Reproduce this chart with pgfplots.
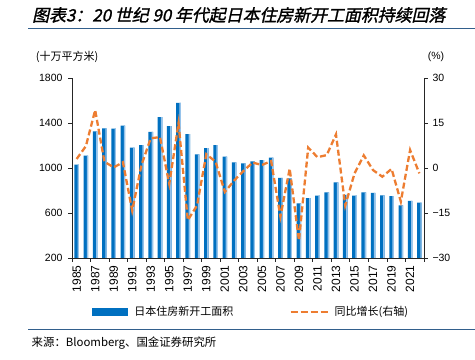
\documentclass[border=0pt]{standalone}
\usepackage{pgfplots}
\pgfplotsset{compat=1.18}
\usepackage{pgfplotstable}
\usepackage{fontspec}
\setmainfont{Liberation Sans}
\newfontfamily\cjk{Noto Sans CJK SC}
\newfontfamily\cjktitle[FakeBold=1.4,FakeSlant=0.22]{Noto Sans CJK SC}
\definecolor{barblue}{RGB}{0,112,192}
\definecolor{barlight}{RGB}{150,195,235}
\definecolor{lineorange}{RGB}{237,125,49}
\definecolor{rulecol}{RGB}{50,95,140}

\pgfplotstableread{
year area
1985 1030
1986 1110
1987 1325
1988 1353
1989 1350
1990 1376
1991 1181
1992 1204
1993 1320
1994 1453
1995 1373
1996 1578
1997 1302
1998 1122
1999 1177
2000 1204
2001 1102
2002 1050
2003 1040
2004 1058
2005 1070
2006 1092
2007 912
2008 908
2009 686
2010 733
2011 754
2012 784
2013 873
2014 760
2015 754
2016 784
2017 778
2018 757
2019 751
2020 668
2021 707
2022 692
}\areatable

\pgfplotstableread{
year yoy
1985 3.0
1986 7.3
1987 19.3
1988 2.1
1989 0.2
1990 1.9
1991 -14.2
1992 1.0
1993 9.9
1994 10.3
1995 -5.3
1996 14.9
1997 -17.4
1998 -12.5
1999 4.6
2000 2.1
2001 -8.0
2002 -4.2
2003 -1.0
2004 1.8
2005 1.0
2006 2.3
2007 -16.2
2008 -0.2
2009 -24.2
2010 6.8
2011 3.6
2012 4.3
2013 11.2
2014 -12.5
2015 -1.8
2016 4.2
2017 -0.7
2018 -2.9
2019 -0.3
2020 -11.2
2021 6.0
2022 -1.8
}\yoytable

\begin{document}
\begin{tikzpicture}
\useasboundingbox (0bp,0bp) rectangle (475bp,360bp);
% title and rules
\node[anchor=west, inner sep=0pt] at (32bp,345bp) {\cjktitle\fontsize{16.9bp}{19bp}\selectfont 图表3：20 世纪 90 年代起日本住房新开工面积持续回落};
\draw[rulecol, line width=1.3bp] (28bp,331.5bp) -- (475bp,331.5bp);
\draw[rulecol, line width=1.3bp] (28bp,30.5bp) -- (475bp,30.5bp);
\node[anchor=west, inner sep=0pt] at (31.5bp,16.5bp) {\cjk\fontsize{11.4bp}{13bp}\selectfont 来源：Bloomberg、国金证券研究所};
% unit labels
\node[inner sep=0pt] at (67bp,303.3bp) {\cjk\fontsize{11bp}{13bp}\selectfont (十万平方米)};
\node[inner sep=0pt] at (436bp,303.3bp) {\fontsize{10.5bp}{12bp}\selectfont (\%)};

\begin{axis}[
  at={(72bp,102bp)}, anchor=south west,
  scale only axis, width=352bp, height=180bp,
  xmin=1984.5, xmax=2022.5, ymin=200, ymax=1800,
  axis x line*=bottom, axis y line*=left,
  axis line style={black!85, line width=0.8bp, -},
  ytick={200,600,1000,1400,1800},
  xtick={1985,1987,...,2021},
  minor xtick={1984.5,1986.5,...,2022.5},
  major x tick style={draw=none},
  tick style={black!85, line width=0.8bp},
  tick align=outside, major tick length=4bp, minor tick length=4bp,
  /pgf/number format/assume math mode=true,
  /pgf/number format/1000 sep={},
  yticklabel style={font=\fontsize{10.5bp}{12bp}\selectfont, xshift=-2bp},
  xticklabel style={font=\fontsize{12bp}{14bp}\selectfont, rotate=90, anchor=east},
  ybar,
  legend style={draw=none, fill=none, at={(0.049,-0.30)}, anchor=west,
    legend columns=2, font=\cjk\fontsize{11bp}{13bp}\selectfont,
    nodes={inner sep=0pt},
    /tikz/every odd column/.append style={column sep=6bp},
    /tikz/every even column/.append style={column sep=56bp}},
]
\addplot[fill=barblue, draw=none, bar width=4.6bp, bar shift=0bp,
  legend image code/.code={\fill[barblue] (0bp,-3.5bp) rectangle (36bp,3.5bp);}]
  table[x=year, y=area]{\areatable};
\addlegendentry{日本住房新开工面积}
\addplot[fill=barlight, draw=none, bar width=1.4bp, bar shift=1.6bp, forget plot]
  table[x=year, y=area]{\areatable};
\addlegendimage{lineorange, line width=2.2bp, dash pattern=on 6bp off 3bp,
  legend image code/.code={\draw[lineorange, line width=2.2bp, dash pattern=on 7bp off 3bp] (0bp,0bp) -- (37bp,0bp);}}
\addlegendentry{同比增长(右轴)}
\end{axis}

\begin{axis}[
  at={(72bp,102bp)}, anchor=south west,
  scale only axis, width=352bp, height=180bp,
  xmin=1984.5, xmax=2022.5, ymin=-30, ymax=30,
  axis x line=none, axis y line*=right,
  axis line style={black!85, line width=0.8bp, -},
  ytick={-30,-15,0,15,30},
  yticklabels={−30,−15,0,15,30},
  tick style={black!85, line width=0.8bp},
  tick align=outside, major tick length=4bp,
  yticklabel style={font=\fontsize{10.5bp}{12bp}\selectfont, xshift=1bp},
]
\addplot[lineorange, line width=2.3bp, dash pattern=on 6bp off 3bp, mark=none]
  table[x=year, y=yoy]{\yoytable};
\end{axis}
\end{tikzpicture}
\end{document}
